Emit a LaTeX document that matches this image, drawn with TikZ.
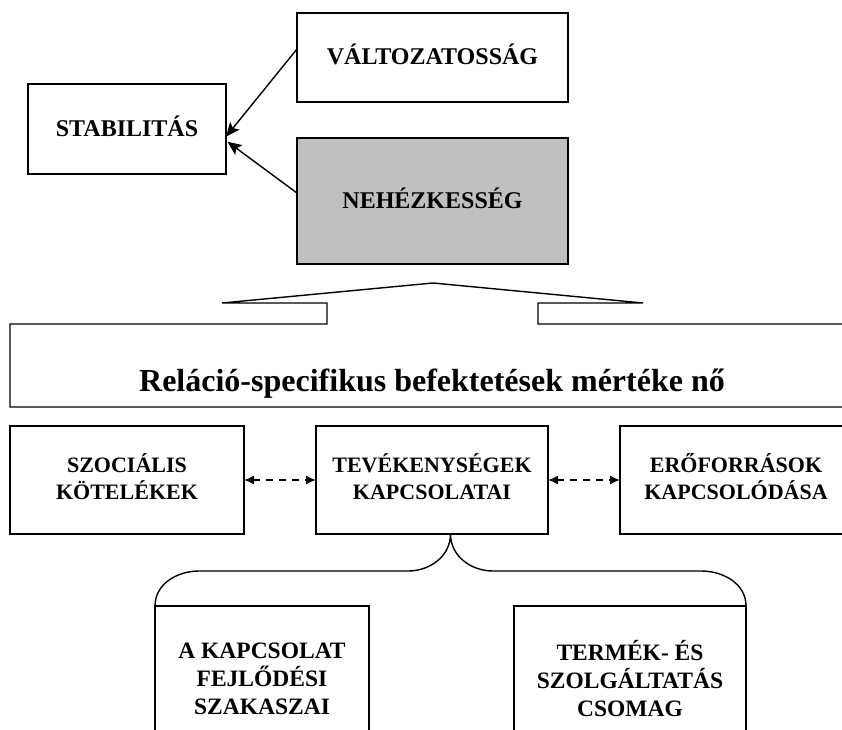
\documentclass[tikz,border=0pt]{standalone}
\usepackage{fontspec}
\setmainfont{Liberation Serif}
\usetikzlibrary{arrows.meta}
\definecolor{boxgray}{RGB}{192,192,192}
\begin{document}
\begin{tikzpicture}[x=1pt,y=1pt,
  every node/.style={inner sep=0pt, outer sep=0pt},
  box/.style={draw=black, line width=1.4pt, align=center, font=\bfseries\fontsize{24}{27}\selectfont},
  topbox/.style={box, text depth=6pt},
  midbox/.style={box, font=\bfseries\fontsize{22}{26.7}\selectfont, minimum width=232pt, minimum height=108pt, text depth=7pt},
  lowbox/.style={box, font=\bfseries\fontsize{23.5}{28}\selectfont, minimum height=146pt, anchor=north},
  conn/.style={draw=black, line width=1.4pt},
  arr/.style={conn, -{Stealth[length=14pt,width=12pt,inset=3pt]}},
  darr/.style={conn, dash pattern=on 7pt off 6pt, {Latex[length=10pt,width=9pt]}-{Latex[length=10pt,width=9pt]}}
]
\useasboundingbox (0,0) rectangle (842,729);
\fill[white] (0,0) rectangle (842,729);
\clip (0,0) rectangle (842,729);

% top part
\node[topbox, minimum width=198pt, minimum height=90pt] (stab) at (127,600) {STABILITÁS};
\node[topbox, minimum width=271pt, minimum height=89pt] (valt) at (432.5,671.5) {VÁLTOZATOSSÁG};
\node[topbox, fill=boxgray, minimum width=271pt, minimum height=126pt] (neh) at (432.5,528) {NEHÉZKESSÉG};

\draw[arr] ([yshift=8.5pt]valt.west) -- ([yshift=-7.7pt]stab.east);
\draw[arr] ([yshift=8pt]neh.west) -- ([shift={(1.5pt,-12.7pt)}]stab.east);

% callout
\draw[conn] (842,405) -- (538,405) -- (538,426) -- (643,426) -- (433,446) -- (222,426)
  -- (327,426) -- (327,405) -- (10,405) -- (10,322) -- (842,322);
\node[font=\bfseries\fontsize{32}{36}\selectfont, anchor=base] (rel) at (432,338)
  {Reláció-specifikus befektetések mértéke nő};

% middle row
\node[midbox, minimum width=234pt] (szoc) at (127,249) {SZOCIÁLIS\\KÖTELÉKEK};
\node[midbox] (tev) at (432,249) {TEVÉKENYSÉGEK\\KAPCSOLATAI};
\node[midbox] (ero) at (736,249) {ERŐFORRÁSOK\\KAPCSOLÓDÁSA};

\draw[darr] (szoc.east) -- (tev.west);
\draw[darr] (tev.east) -- (ero.west);

% bottom row
\node[lowbox, minimum width=214pt] (kapcs) at (262,123) {A KAPCSOLAT\\FEJLŐDÉSI\\SZAKASZAI};
\node[lowbox, minimum width=232pt] (termek) at (630,123) {TERMÉK- ÉS\\SZOLGÁLTATÁS\\CSOMAG};

% brace
\coordinate (tip) at (450.5,195);
\draw[conn] (kapcs.north west) to[out=90,in=180] (199,158) -- (408,158)
  to[out=0,in=-90] (tip) to[out=-90,in=180] (493,158) -- (701,158)
  to[out=0,in=90] (termek.north east);
\end{tikzpicture}
\end{document}
